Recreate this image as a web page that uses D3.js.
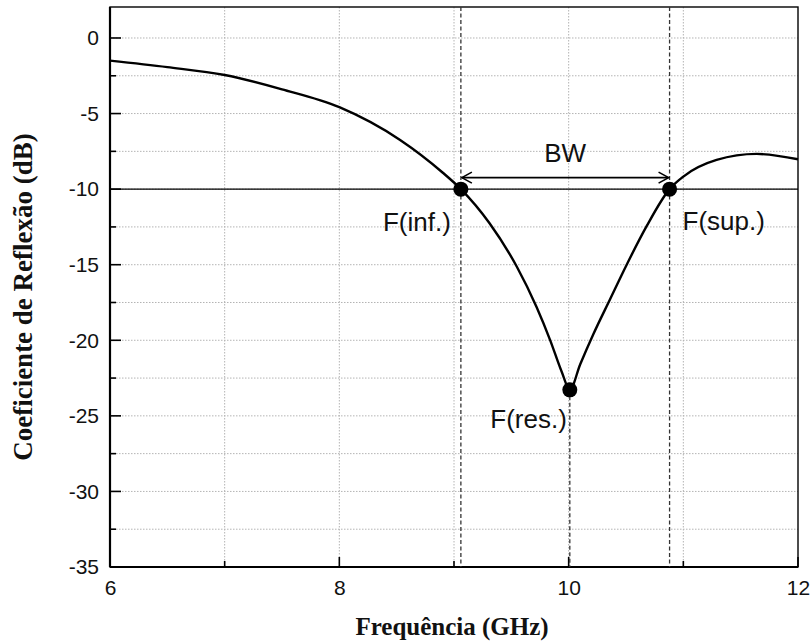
<!DOCTYPE html>
<html>
<head>
<meta charset="utf-8">
<script src="https://cdn.jsdelivr.net/npm/d3@7"></script>
<style>
  body { margin: 0; background: #fff; }
  text { fill: #111; }
</style>
</head>
<body>
<div id="chart"></div>
<script>
// Data
const freq = [6, 6.5, 7, 7.5, 8, 8.53, 8.9, 9.06, 9.31, 9.547, 9.72, 9.84, 9.94, 10.01, 10.1, 10.215, 10.36, 10.506, 10.68, 10.88, 11.0, 11.29, 11.64, 12]
const s11 = [-1.5, -1.93, -2.45, -3.4, -4.58, -6.75, -8.9, -10, -12.26, -15.12, -17.8, -20.02, -22.1, -23.28, -21.6, -19.6, -17.3, -15.0, -12.45, -10, -9.17, -8.07, -7.67, -8.02]
const markers = [
	{ name: 'F(inf.)', f: 9.06, v: -10 },
	{ name: 'F(sup.)', f: 10.88, v: -10 },
	{ name: 'F(res.)', f: 10.01, v: -23.28 }
]
const xTicks = [6, 8, 10, 12]
const xMinor = [7, 9, 11]
const yTicks = [0, -5, -10, -15, -20, -25, -30, -35]
const yMinor = [0, -2.5, -5, -7.5, -10, -12.5, -15, -17.5, -20, -22.5, -25, -27.5, -30, -32.5]

function draw() {
	let dimensions = {
		width: 811,
		height: 641,
		margin: { top: 7, bottom: 74, left: 110, right: 13 }
	}
	dimensions.ctrWidth = dimensions.width - dimensions.margin.left - dimensions.margin.right
	dimensions.ctrHeight = dimensions.height - dimensions.margin.top - dimensions.margin.bottom

	const svg = d3.select('#chart')
		.append('svg')
		.attr('width', dimensions.width)
		.attr('height', dimensions.height)

	svg.append('defs')
		.append('marker')
		.attr('id', 'arrow')
		.attr('viewBox', '0 -7 12 14')
		.attr('refX', 11)
		.attr('refY', 0)
		.attr('markerWidth', 12)
		.attr('markerHeight', 14)
		.attr('markerUnits', 'userSpaceOnUse')
		.attr('orient', 'auto-start-reverse')
		.append('path')
		.attr('d', 'M1,-5.5L11,0L1,5.5')
		.attr('fill', 'none')
		.attr('stroke', '#000')
		.attr('stroke-width', 1.6)

	const ctr = svg.append('g')
		.attr('transform', `translate(${dimensions.margin.left}, ${dimensions.margin.top})`)

	// Scales
	const xScale = d3.scaleLinear()
		.domain([6, 12])
		.range([0, dimensions.ctrWidth])

	const yScale = d3.scaleLinear()
		.domain([-35, 2.05])
		.range([dimensions.ctrHeight, 0])

	// Grid
	ctr.selectAll('.vgrid')
		.data(xTicks.concat(xMinor).filter(d => d > 6 && d < 12))
		.join('line')
		.attr('class', 'vgrid')
		.attr('x1', d => xScale(d))
		.attr('x2', d => xScale(d))
		.attr('y1', 0)
		.attr('y2', dimensions.ctrHeight)
		.attr('stroke', '#b4b4b4')
		.attr('stroke-dasharray', '1.5,1.5')

	ctr.selectAll('.hgrid')
		.data(yMinor)
		.join('line')
		.attr('class', 'hgrid')
		.attr('x1', 0)
		.attr('x2', dimensions.ctrWidth)
		.attr('y1', d => yScale(d))
		.attr('y2', d => yScale(d))
		.attr('stroke', '#b4b4b4')
		.attr('stroke-dasharray', '1.5,1.5')

	// Axes
	const tickFont = 'Liberation Sans, Arial, sans-serif'
	const xAxis = d3.axisBottom(xScale).tickValues(xTicks).tickFormat(d => String(d)).tickSize(0).tickPadding(13)
	const xG = ctr.append('g')
		.attr('transform', `translate(0, ${dimensions.ctrHeight})`)
		.call(xAxis)
	xG.select('.domain').remove()
	xG.selectAll('text')
		.attr('font-family', tickFont)
		.attr('font-size', 21)
		.attr('fill', '#111')

	const yAxis = d3.axisLeft(yScale).tickValues(yTicks).tickFormat(d => String(d)).tickSize(0).tickPadding(11)
	const yG = ctr.append('g').call(yAxis)
	yG.select('.domain').remove()
	yG.selectAll('text')
		.attr('font-family', tickFont)
		.attr('font-size', 21)
		.attr('fill', '#111')

	// Inward ticks
	ctr.selectAll('.xtick')
		.data(xTicks.concat(xMinor))
		.join('line')
		.attr('class', 'xtick')
		.attr('x1', d => xScale(d))
		.attr('x2', d => xScale(d))
		.attr('y1', dimensions.ctrHeight)
		.attr('y2', d => dimensions.ctrHeight - (xTicks.includes(d) ? 10 : 6))
		.attr('stroke', '#000')
		.attr('stroke-width', 1.6)

	ctr.selectAll('.ytick')
		.data(yMinor.concat([-35]))
		.join('line')
		.attr('class', 'ytick')
		.attr('x1', 0)
		.attr('x2', d => (d % 5 === 0 ? 11 : 6))
		.attr('y1', d => yScale(d))
		.attr('y2', d => yScale(d))
		.attr('stroke', '#000')
		.attr('stroke-width', 1.6)

	// Frame
	ctr.append('rect')
		.attr('width', dimensions.ctrWidth)
		.attr('height', dimensions.ctrHeight)
		.attr('fill', 'none')
		.attr('stroke', '#000')
		.attr('stroke-width', 1.4)
	ctr.append('line')
		.attr('x1', 0).attr('x2', 0)
		.attr('y1', 0).attr('y2', dimensions.ctrHeight)
		.attr('stroke', '#000').attr('stroke-width', 2.2)
	ctr.append('line')
		.attr('x1', 0).attr('x2', dimensions.ctrWidth)
		.attr('y1', dimensions.ctrHeight).attr('y2', dimensions.ctrHeight)
		.attr('stroke', '#000').attr('stroke-width', 2.2)

	// -10 dB reference line
	ctr.append('line')
		.attr('x1', 0)
		.attr('x2', dimensions.ctrWidth)
		.attr('y1', yScale(-10))
		.attr('y2', yScale(-10))
		.attr('stroke', '#000')
		.attr('stroke-width', 1.3)

	// Dashed marker lines
	ctr.selectAll('.mline')
		.data(markers)
		.join('line')
		.attr('class', 'mline')
		.attr('x1', d => xScale(d.f))
		.attr('x2', d => xScale(d.f))
		.attr('y1', d => (d.name === 'F(res.)' ? yScale(d.v) : 0))
		.attr('y2', dimensions.ctrHeight)
		.attr('stroke', '#333')
		.attr('stroke-width', 1.3)
		.attr('stroke-dasharray', '4,2.5')

	// Curve
	const line = d3.line()
		.x((d, i) => xScale(freq[i]))
		.y(d => yScale(d))
		.curve(d3.curveMonotoneX)

	ctr.append('path')
		.datum(s11)
		.attr('d', line)
		.attr('fill', 'none')
		.attr('stroke', '#000')
		.attr('stroke-width', 2.4)

	// Points
	ctr.selectAll('.pt')
		.data(markers)
		.join('circle')
		.attr('class', 'pt')
		.attr('cx', d => xScale(d.f))
		.attr('cy', d => yScale(d.v))
		.attr('r', 7.5)
		.attr('fill', '#000')

	// BW arrow
	const arrowY = yScale(-10) - 11.5
	ctr.append('line')
		.attr('x1', xScale(markers[0].f) + 1)
		.attr('x2', xScale(markers[1].f) - 1)
		.attr('y1', arrowY)
		.attr('y2', arrowY)
		.attr('stroke', '#000')
		.attr('stroke-width', 1.6)
		.attr('marker-start', 'url(#arrow)')
		.attr('marker-end', 'url(#arrow)')

	const labelFont = 'Liberation Sans, Arial, sans-serif'
	ctr.append('text')
		.attr('x', xScale((markers[0].f + markers[1].f) / 2))
		.attr('y', arrowY - 16)
		.attr('text-anchor', 'middle')
		.attr('font-family', labelFont)
		.attr('font-size', 26)
		.text('BW')

	ctr.append('text')
		.attr('x', xScale(markers[0].f) - 10)
		.attr('y', yScale(markers[0].v) + 42)
		.attr('text-anchor', 'end')
		.attr('font-family', labelFont)
		.attr('font-size', 26)
		.text(markers[0].name)

	ctr.append('text')
		.attr('x', xScale(markers[1].f) + 13)
		.attr('y', yScale(markers[1].v) + 41)
		.attr('font-family', labelFont)
		.attr('font-size', 26)
		.text(markers[1].name)

	ctr.append('text')
		.attr('x', xScale(markers[2].f) - 3)
		.attr('y', yScale(markers[2].v) + 38)
		.attr('text-anchor', 'end')
		.attr('font-family', labelFont)
		.attr('font-size', 26)
		.text(markers[2].name)

	// Axis titles
	svg.append('text')
		.attr('x', dimensions.margin.left + dimensions.ctrWidth / 2 - 2)
		.attr('y', 635)
		.attr('text-anchor', 'middle')
		.attr('font-family', 'Liberation Serif, Times New Roman, serif')
		.attr('font-weight', 'bold')
		.attr('font-size', 25)
		.text('Frequência (GHz)')

	svg.append('text')
		.attr('transform', `translate(32, 297) rotate(-90)`)
		.attr('text-anchor', 'middle')
		.attr('font-family', 'Liberation Serif, Times New Roman, serif')
		.attr('font-weight', 'bold')
		.attr('font-size', 27)
		.text('Coeficiente de Reflexão (dB)')
}

draw()
</script>
</body>
</html>
